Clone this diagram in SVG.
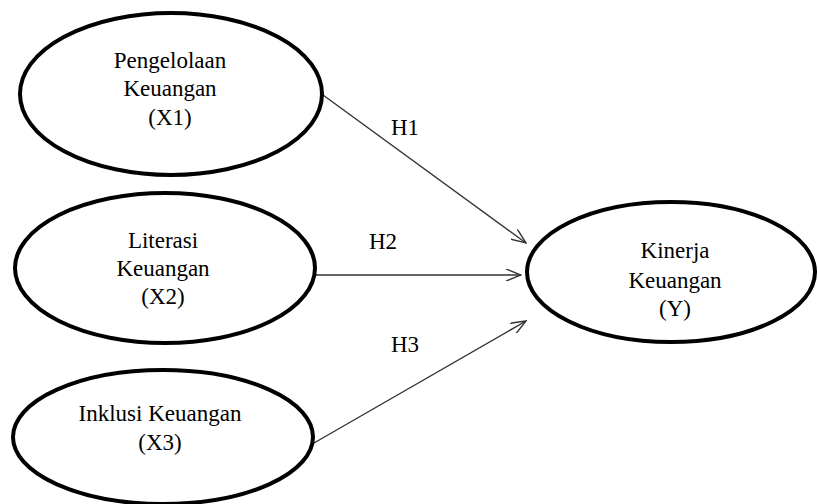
<svg xmlns="http://www.w3.org/2000/svg" width="818" height="504" viewBox="0 0 818 504">
<style>
.node ellipse{fill:#fff;stroke:#000;stroke-width:4}
.t{font-family:'Liberation Serif','DejaVu Serif',serif;font-size:23px;fill:#000;text-anchor:middle}
.conn line{stroke:#333;stroke-width:1.4;fill:none}
</style>
<defs>
<marker id="arr" viewBox="0 0 16 12" refX="15" refY="6" markerWidth="16" markerHeight="12" markerUnits="userSpaceOnUse" orient="auto">
<path d="M0,0 L15,6 L0,12" fill="none" stroke="#333" stroke-width="1.4"/>
</marker>
</defs>
<g class="conn">
<line x1="323" y1="95" x2="526" y2="243" marker-end="url(#arr)"/>
<line x1="315" y1="275" x2="521" y2="275" marker-end="url(#arr)"/>
<line x1="314" y1="443" x2="526" y2="321" marker-end="url(#arr)"/>
<text class="t" x="405" y="135">H1</text>
<text class="t" x="383" y="249">H2</text>
<text class="t" x="405" y="352">H3</text>
</g>
<g id="x1" class="node">
<ellipse cx="171" cy="94" rx="151" ry="81"/>
<text class="t" x="170" y="68">Pengelolaan</text>
<text class="t" x="170" y="96">Keuangan</text>
<text class="t" x="170" y="125">(X1)</text>
</g>
<g id="x2" class="node">
<ellipse cx="165" cy="268" rx="150" ry="75"/>
<text class="t" x="163" y="248">Literasi</text>
<text class="t" x="163" y="276">Keuangan</text>
<text class="t" x="163" y="304">(X2)</text>
</g>
<g id="x3" class="node">
<ellipse cx="163" cy="437" rx="150" ry="67"/>
<text class="t" x="160" y="421">Inklusi Keuangan</text>
<text class="t" x="160" y="450">(X3)</text>
</g>
<g id="y" class="node">
<ellipse cx="671" cy="272" rx="144" ry="70"/>
<text class="t" x="675" y="258">Kinerja</text>
<text class="t" x="675" y="288">Keuangan</text>
<text class="t" x="675" y="316">(Y)</text>
</g>
</svg>
